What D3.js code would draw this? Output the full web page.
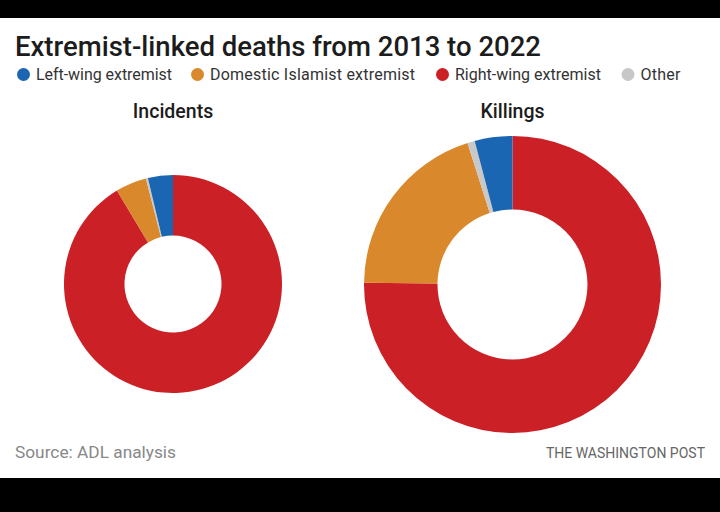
<!DOCTYPE html>
<html>
<head>
<meta charset="utf-8">
<script src="https://cdn.jsdelivr.net/npm/d3@7"></script>
<style>
  html, body { margin: 0; padding: 0; background: #000; }
  svg { display: block; }
  text { font-family: "Roboto", "Liberation Sans", sans-serif; }
</style>
</head>
<body>
<svg id="chart" width="720" height="512"></svg>
<script>
const categories = ["Right-wing extremist", "Domestic Islamist extremist", "Other", "Left-wing extremist"]
const incidentValues = [91.4, 4.6, 0.3, 3.7]
const killingValues = [75.2, 19.9, 0.8, 4.1]
const legendOrder = ["Left-wing extremist", "Domestic Islamist extremist", "Right-wing extremist", "Other"]
const chartTitle = "Extremist-linked deaths from 2013 to 2022"

const colorScale = d3.scaleOrdinal()
    .domain(categories)
    .range(["#cb2026", "#d9882c", "#c8c8c8", "#1b66b3"])

const svg = d3.select("#chart")

// photo background, black bands above and below stay from the body
svg.append("rect")
    .attr("x", 0)
    .attr("y", 18)
    .attr("width", 720)
    .attr("height", 460)
    .attr("fill", "#fff")

svg.append("text")
    .attr("x", 15)
    .attr("y", 56)
    .style("font-size", "27.5px")
    .style("font-weight", "500")
    .attr("fill", "#1c1c1c")
    .text(chartTitle)

// Legend
const legendDotX = [23.5, 197.5, 442.5, 628]
const legendLabelW = [136, 205, 146, 40]
const legend = svg.append("g")
legendOrder.forEach((name, i) => {
    legend.append("circle")
        .attr("cx", legendDotX[i])
        .attr("cy", 74.5)
        .attr("r", 6.5)
        .attr("fill", colorScale(name))
    legend.append("text")
        .attr("x", legendDotX[i] + 12.5)
        .attr("y", 80)
        .attr("textLength", legendLabelW[i])
        .style("font-size", "16px")
        .attr("fill", "#333")
        .text(name)
})

const drawDonut = (values, title, cx, cy, outer, inner) => {
    const pie = d3.pie().sort(null)
    const arc = d3.arc().innerRadius(inner).outerRadius(outer)
    const g = svg.append("g")
        .attr("transform", `translate(${cx},${cy})`)

    g.selectAll("path")
        .data(pie(values))
        .join("path")
        .attr("d", arc)
        .attr("fill", (d, i) => colorScale(categories[i]))

    svg.append("text")
        .attr("x", cx)
        .attr("y", 118)
        .attr("text-anchor", "middle")
        .style("font-size", "19.5px")
        .style("font-weight", "500")
        .attr("fill", "#1c1c1c")
        .text(title)
}

drawDonut(incidentValues, "Incidents", 173, 284, 109, 48.5)
drawDonut(killingValues, "Killings", 512.5, 284.5, 148.5, 75)

svg.append("text")
    .attr("x", 15)
    .attr("y", 458)
    .style("font-size", "17.3px")
    .attr("fill", "#888")
    .text("Source: ADL analysis")

svg.append("text")
    .attr("x", 705)
    .attr("y", 458)
    .attr("text-anchor", "end")
    .style("font-size", "14px")
    .attr("fill", "#666")
    .text("THE WASHINGTON POST")
</script>
</body>
</html>
